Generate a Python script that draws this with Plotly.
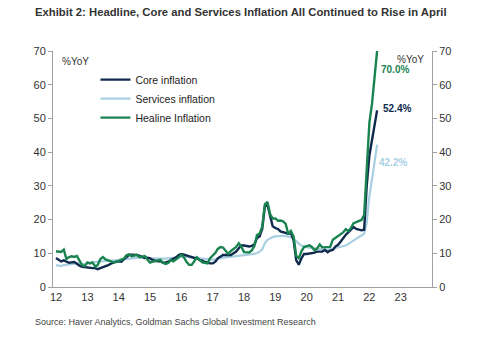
import pandas as pd
import plotly.graph_objects as go

dates = pd.date_range("2012-01-01", periods=124, freq="MS")

headline = [
    10.6, 10.4, 10.4, 11.1, 8.3, 8.9, 9.1, 8.9, 9.2, 7.8, 6.4, 6.2,
    7.3, 7.0, 7.3, 6.1, 6.5, 8.3, 8.9, 8.2, 7.9, 7.7, 7.3, 7.4,
    7.75, 7.89, 8.39, 9.38, 9.66, 9.16, 9.32, 9.54, 8.86, 8.96, 9.15, 8.17,
    7.24, 7.55, 7.61, 7.91, 8.09, 7.20, 6.81, 7.14, 7.95, 7.58, 8.10, 8.81,
    9.58, 8.78, 7.46, 6.57, 6.58, 7.64, 8.79, 8.05, 7.28, 7.16, 7.00, 8.53,
    9.22, 10.13, 11.29, 11.87, 11.72, 10.90, 9.79, 10.68, 11.20, 11.90, 12.98, 11.92,
    10.35, 10.26, 10.23, 10.85, 12.15, 15.39, 15.85, 17.90, 24.52, 25.24, 21.62, 20.30,
    20.35, 19.67, 19.71, 19.50, 18.71, 15.72, 16.65, 15.01, 9.26, 8.55, 10.56, 11.84,
    12.15, 12.37, 11.86, 10.94, 11.39, 12.62, 11.76, 11.77, 11.75, 11.89, 14.03, 14.60,
    14.97, 15.61, 16.19, 17.14, 16.59, 17.53, 18.95, 19.25, 19.58, 19.89, 21.31, 36.08,
    48.69, 54.44, 61.14, 70.0,
]

core = [
    8.6, 8.0, 7.6, 7.9, 7.5, 7.2, 7.3, 7.4, 6.9, 6.3, 6.0, 5.9,
    5.6, 5.6, 5.6, 5.6, 5.3, 5.6, 5.9, 6.0, 6.5, 6.9, 7.3, 7.5,
    7.6, 7.5, 8.2, 9.0, 9.5, 9.6, 9.6, 9.5, 9.2, 8.9, 8.6, 8.7,
    8.5, 8.0, 7.8, 7.6, 7.7, 7.2, 7.3, 7.5, 8.0, 8.4, 8.8, 9.5,
    9.8, 9.6, 9.4, 9.0, 8.8, 8.6, 8.6, 8.0, 7.8, 7.4, 7.3, 7.0,
    7.0, 7.5, 8.5, 9.0, 9.5, 9.5, 9.4, 9.5, 10.0, 10.5, 11.5, 12.3,
    12.3, 12.1, 12.0, 12.2, 12.6, 14.5, 15.0, 17.2, 24.0, 24.3, 21.0, 18.0,
    17.5, 17.2, 16.5, 16.3, 16.2, 15.8, 16.0, 14.0, 8.0, 6.6, 8.5, 9.8,
    9.8, 9.9, 10.0, 10.2, 10.5, 10.4, 10.5, 11.0, 10.3, 10.8, 11.0, 12.0,
    12.5, 13.5, 14.5, 15.5, 16.2, 17.0, 17.8, 17.2, 17.0, 16.8, 17.0, 30.0,
    39.0, 44.0, 48.5, 52.4,
]

services = [
    6.5, 6.3, 6.2, 6.5, 6.6, 6.8, 6.9, 7.0, 7.0, 6.9, 6.8, 6.8,
    7.0, 7.2, 7.3, 7.4, 7.5, 7.6, 7.7, 7.8, 7.8, 7.8, 7.8, 7.9,
    8.0, 8.1, 8.3, 8.5, 8.6, 8.7, 8.8, 8.8, 8.8, 8.7, 8.6, 8.5,
    8.6, 8.5, 8.5, 8.4, 8.5, 8.4, 8.4, 8.5, 8.6, 8.7, 8.8, 8.9,
    9.0, 9.0, 8.9, 8.8, 8.7, 8.6, 8.6, 8.5, 8.4, 8.3, 8.2, 8.2,
    8.1, 8.2, 8.4, 8.6, 8.7, 8.8, 8.9, 9.0, 9.0, 9.1, 9.2, 9.3,
    9.4, 9.5, 9.5, 9.6, 9.8, 10.1, 10.5, 11.2, 13.0, 14.0, 14.5, 14.8,
    15.0, 15.1, 15.2, 15.2, 15.1, 15.0, 14.8, 14.5, 13.5, 12.8, 12.3, 12.0,
    11.8, 11.7, 11.6, 11.5, 11.4, 11.3, 11.2, 11.0, 11.0, 11.2, 11.4, 11.6,
    11.6, 11.8, 12.0, 12.3, 12.8, 13.3, 13.8, 14.3, 14.8, 15.3, 15.8, 19.0,
    27.0, 32.0, 37.0, 42.2,
]

year_ticks = [f"{y}-01-01" for y in range(2012, 2024)]
year_labels = [str(y)[2:] for y in range(2012, 2024)]
y_ticks = [0, 10, 20, 30, 40, 50, 60, 70]

C_CORE = "#0f2a4d"
C_SERV = "#a9cfe3"
C_HEAD = "#1a8450"
FONT = "Liberation Sans, Arial, sans-serif"

fig = go.Figure()
fig.add_trace(go.Scatter(x=dates, y=services, mode="lines", name="Services inflation",
                         line=dict(color=C_SERV, width=2.2), legendrank=2))
fig.add_trace(go.Scatter(x=dates, y=core, mode="lines", name="Core inflation",
                         line=dict(color=C_CORE, width=2.4), legendrank=1))
fig.add_trace(go.Scatter(x=dates, y=headline, mode="lines", name="Healine Inflation",
                         line=dict(color=C_HEAD, width=2.4), legendrank=3))
# invisible trace to activate right axis
fig.add_trace(go.Scatter(x=[dates[0]], y=[0], yaxis="y2", mode="lines",
                         line=dict(width=0), showlegend=False, hoverinfo="skip"))

axis_common = dict(range=[0, 70], tickvals=y_ticks, showgrid=False, zeroline=False,
                   showline=True, linecolor="#a0a0a0", linewidth=1,
                   ticks="outside", ticklen=4, tickcolor="#a0a0a0",
                   tickfont=dict(family=FONT, size=11, color="#333333"))

fig.update_layout(
    width=500, height=338,
    margin=dict(l=53, r=68, t=51, b=51),
    paper_bgcolor="white", plot_bgcolor="white",
    font=dict(family=FONT, color="#333333"),
    xaxis=dict(type="date", range=["2011-11-27", "2024-01-01"],
               tickvals=year_ticks, ticktext=year_labels, showgrid=False,
               zeroline=False, showline=True, linecolor="#a0a0a0", linewidth=1,
               ticks="", tickfont=dict(family=FONT, size=11, color="#333333")),
    yaxis=dict(**axis_common, side="left"),
    yaxis2=dict(**axis_common, side="right", overlaying="y"),
    showlegend=True,
    legend=dict(x=0.112, y=0.94, xanchor="left", yanchor="top",
                bgcolor="rgba(0,0,0,0)", font=dict(family=FONT, size=10.5, color="#222222"),
                tracegroupgap=0, itemwidth=30),
)

fig.add_annotation(text="<b>Exhibit 2: Headline, Core and Services Inflation All Continued to Rise in April</b>",
                   xref="paper", yref="paper", x=-0.052, y=1.165, xanchor="left", yanchor="middle",
                   showarrow=False, font=dict(family=FONT, size=11.3, color="#333333"))
fig.add_annotation(text="Source: Haver Analytics, Goldman Sachs Global Investment Research",
                   xref="paper", yref="paper", x=-0.052, y=-0.15, xanchor="left", yanchor="middle",
                   showarrow=False, font=dict(family=FONT, size=9, color="#444444"))
fig.add_annotation(text="%YoY", xref="paper", yref="paper", x=0.018, y=0.955,
                   xanchor="left", yanchor="middle", showarrow=False,
                   font=dict(family=FONT, size=10, color="#333333"))
fig.add_annotation(text="%YoY", xref="paper", yref="paper", x=0.985, y=0.965,
                   xanchor="right", yanchor="middle", showarrow=False,
                   font=dict(family=FONT, size=10, color="#333333"))

last = dates[-1]
for val, col, dx, dy in [(headline[-1], C_HEAD, 2, -18), (core[-1], C_CORE, 4, 2), (services[-1], C_SERV, 0, -18)]:
    fig.add_annotation(text=f"<b>{val:.1f}%</b>", x=last, y=val, xref="x", yref="y",
                       xanchor="left", yanchor="middle", xshift=dx, yshift=dy, showarrow=False,
                       font=dict(family=FONT, size=10, color=col))

fig.write_html("out.html")
